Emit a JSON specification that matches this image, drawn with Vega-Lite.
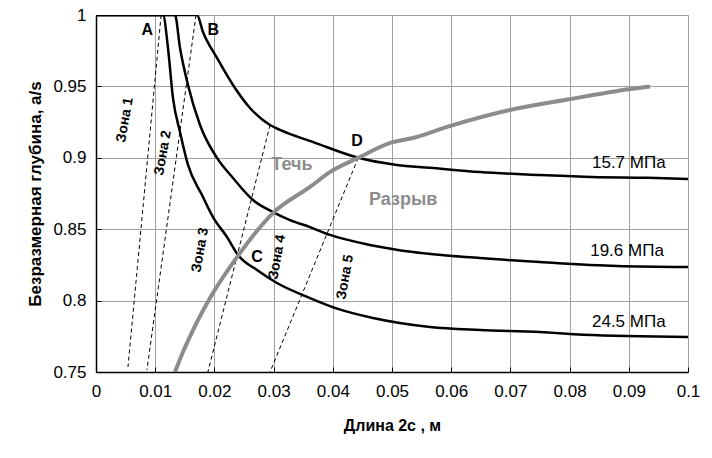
{
  "$schema": "https://vega.github.io/schema/vega-lite/v6.json",
  "width": 592,
  "height": 357,
  "autosize": "none",
  "padding": {"left": 96, "top": 15, "right": 24, "bottom": 86},
  "background": "white",
  "config": {
    "font": "Liberation Sans",
    "view": {"stroke": "#a0a0a0", "strokeWidth": 1},
    "axis": {
      "gridColor": "#a0a0a0",
      "gridWidth": 1,
      "domainColor": "black",
      "domainWidth": 1.5,
      "ticks": true,
      "tickSize": -5,
      "tickColor": "black",
      "tickWidth": 1,
      "labelFont": "Liberation Sans",
      "labelFontSize": 17,
      "labelColor": "black",
      "titleFont": "Liberation Sans",
      "titleFontSize": 16,
      "titleFontWeight": "bold",
      "titleColor": "black"
    }
  },
  "datasets": {
    "curves": [
      {"s": "24.5", "i": 0, "x": 0, "y": 1.0},
      {"s": "24.5", "i": 1, "x": 0.01132, "y": 1.0},
      {"s": "24.5", "i": 2, "x": 0.01216, "y": 0.9769},
      {"s": "24.5", "i": 3, "x": 0.0130, "y": 0.9419},
      {"s": "24.5", "i": 4, "x": 0.01419, "y": 0.9181},
      {"s": "24.5", "i": 5, "x": 0.01554, "y": 0.8950},
      {"s": "24.5", "i": 6, "x": 0.01791, "y": 0.8739},
      {"s": "24.5", "i": 7, "x": 0.01976, "y": 0.8585},
      {"s": "24.5", "i": 8, "x": 0.02213, "y": 0.8445},
      {"s": "24.5", "i": 9, "x": 0.02399, "y": 0.8319},
      {"s": "24.5", "i": 10, "x": 0.0272, "y": 0.8214},
      {"s": "24.5", "i": 11, "x": 0.03057, "y": 0.8123},
      {"s": "24.5", "i": 12, "x": 0.03615, "y": 0.8018},
      {"s": "24.5", "i": 13, "x": 0.04100, "y": 0.7940},
      {"s": "24.5", "i": 14, "x": 0.04679, "y": 0.7878},
      {"s": "24.5", "i": 15, "x": 0.05642, "y": 0.7815},
      {"s": "24.5", "i": 16, "x": 0.06486, "y": 0.7794},
      {"s": "24.5", "i": 17, "x": 0.0750, "y": 0.7780},
      {"s": "24.5", "i": 18, "x": 0.0823, "y": 0.7760},
      {"s": "24.5", "i": 19, "x": 0.1, "y": 0.7745},
      {"s": "19.6", "i": 0, "x": 0, "y": 1.0},
      {"s": "19.6", "i": 1, "x": 0.01334, "y": 1.0},
      {"s": "19.6", "i": 2, "x": 0.01419, "y": 0.9769},
      {"s": "19.6", "i": 3, "x": 0.01554, "y": 0.9510},
      {"s": "19.6", "i": 4, "x": 0.01757, "y": 0.9230},
      {"s": "19.6", "i": 5, "x": 0.02044, "y": 0.8999},
      {"s": "19.6", "i": 6, "x": 0.02314, "y": 0.8859},
      {"s": "19.6", "i": 7, "x": 0.02652, "y": 0.8704},
      {"s": "19.6", "i": 8, "x": 0.0299, "y": 0.8620},
      {"s": "19.6", "i": 9, "x": 0.03277, "y": 0.8564},
      {"s": "19.6", "i": 10, "x": 0.03615, "y": 0.8515},
      {"s": "19.6", "i": 11, "x": 0.03953, "y": 0.8460},
      {"s": "19.6", "i": 12, "x": 0.04628, "y": 0.8390},
      {"s": "19.6", "i": 13, "x": 0.05355, "y": 0.8340},
      {"s": "19.6", "i": 14, "x": 0.06486, "y": 0.8298},
      {"s": "19.6", "i": 15, "x": 0.0750, "y": 0.8270},
      {"s": "19.6", "i": 16, "x": 0.0880, "y": 0.8242},
      {"s": "19.6", "i": 17, "x": 0.1, "y": 0.8235},
      {"s": "15.7", "i": 0, "x": 0, "y": 1.0},
      {"s": "15.7", "i": 1, "x": 0.01706, "y": 1.0},
      {"s": "15.7", "i": 2, "x": 0.01807, "y": 0.9881},
      {"s": "15.7", "i": 3, "x": 0.02044, "y": 0.9699},
      {"s": "15.7", "i": 4, "x": 0.02314, "y": 0.9510},
      {"s": "15.7", "i": 5, "x": 0.02601, "y": 0.9349},
      {"s": "15.7", "i": 6, "x": 0.0294, "y": 0.9230},
      {"s": "15.7", "i": 7, "x": 0.03108, "y": 0.9195},
      {"s": "15.7", "i": 8, "x": 0.0367, "y": 0.9110},
      {"s": "15.7", "i": 9, "x": 0.0443, "y": 0.9000},
      {"s": "15.7", "i": 10, "x": 0.0508, "y": 0.8950},
      {"s": "15.7", "i": 11, "x": 0.0564, "y": 0.8930},
      {"s": "15.7", "i": 12, "x": 0.0649, "y": 0.8900},
      {"s": "15.7", "i": 13, "x": 0.0750, "y": 0.8880},
      {"s": "15.7", "i": 14, "x": 0.0838, "y": 0.8866},
      {"s": "15.7", "i": 15, "x": 0.0932, "y": 0.8860},
      {"s": "15.7", "i": 16, "x": 0.1, "y": 0.8852}
    ],
    "rupture": [
      {"i": 0, "x": 0.01334, "y": 0.750},
      {"i": 1, "x": 0.01480, "y": 0.7650},
      {"i": 2, "x": 0.01639, "y": 0.7794},
      {"i": 3, "x": 0.01976, "y": 0.8053},
      {"i": 4, "x": 0.02382, "y": 0.8305},
      {"i": 5, "x": 0.0299, "y": 0.8613},
      {"i": 6, "x": 0.03615, "y": 0.8796},
      {"i": 7, "x": 0.0395, "y": 0.8900},
      {"i": 8, "x": 0.0443, "y": 0.9000},
      {"i": 9, "x": 0.0497, "y": 0.9104},
      {"i": 10, "x": 0.0542, "y": 0.9146},
      {"i": 11, "x": 0.0596, "y": 0.9220},
      {"i": 12, "x": 0.0699, "y": 0.9335},
      {"i": 13, "x": 0.0799, "y": 0.9410},
      {"i": 14, "x": 0.0900, "y": 0.9480},
      {"i": 15, "x": 0.0936, "y": 0.9500}
    ],
    "zones": [
      {"z": "1", "i": 0, "x": 0.0110, "y": 1.0},
      {"z": "1", "i": 1, "x": 0.0054, "y": 0.7535},
      {"z": "2", "i": 0, "x": 0.0169, "y": 1.0},
      {"z": "2", "i": 1, "x": 0.0086, "y": 0.7514},
      {"z": "3", "i": 0, "x": 0.0294, "y": 0.923},
      {"z": "3", "i": 1, "x": 0.0189, "y": 0.750},
      {"z": "4", "i": 0, "x": 0.0443, "y": 0.900},
      {"z": "4", "i": 1, "x": 0.0294, "y": 0.750}
    ],
    "labels": [
      {"k": "point", "t": "A", "x": 0.00865, "y": 0.9895},
      {"k": "point", "t": "B", "x": 0.0198, "y": 0.9895},
      {"k": "point", "t": "C", "x": 0.0272, "y": 0.8305},
      {"k": "point", "t": "D", "x": 0.0441, "y": 0.9118},
      {"k": "gray", "t": "Течь", "x": 0.0331, "y": 0.895},
      {"k": "gray", "t": "Разрыв", "x": 0.0519, "y": 0.8705},
      {"k": "mpa", "t": "15.7 МПа", "x": 0.0900, "y": 0.8964},
      {"k": "mpa", "t": "19.6 МПа", "x": 0.0897, "y": 0.8347},
      {"k": "mpa", "t": "24.5 МПа", "x": 0.0900, "y": 0.785},
      {"k": "zone", "t": "Зона 1", "x": 0.0049, "y": 0.9265},
      {"k": "zone", "t": "Зона 2", "x": 0.0113, "y": 0.9034},
      {"k": "zone", "t": "Зона 3", "x": 0.0176, "y": 0.8354},
      {"k": "zone", "t": "Зона 4", "x": 0.0306, "y": 0.8305},
      {"k": "zone", "t": "Зона 5", "x": 0.0421, "y": 0.8165}
    ]
  },
  "encoding": {
    "x": {
      "field": "x", "type": "quantitative",
      "scale": {"domain": [0, 0.1], "nice": false, "zero": false},
      "axis": {"title": "Длина 2c , м", "format": "~g", "values": [0, 0.01, 0.02, 0.03, 0.04, 0.05, 0.06, 0.07, 0.08, 0.09, 0.1], "labelPadding": 16, "titlePadding": 18, "labelFlush": false, "labelOverlap": false}
    },
    "y": {
      "field": "y", "type": "quantitative",
      "scale": {"domain": [0.75, 1], "nice": false, "zero": false},
      "axis": {"title": "Безразмерная глубина, a/s", "titleFontSize": 17, "format": "~g", "values": [0.75, 0.8, 0.85, 0.9, 0.95, 1], "labelPadding": 15, "titlePadding": 8, "labelFlush": false, "labelOverlap": false}
    }
  },
  "layer": [
    {
      "data": {"name": "zones"},
      "mark": {"type": "line", "color": "black", "strokeWidth": 1, "strokeDash": [4, 3], "clip": true},
      "encoding": {"detail": {"field": "z"}, "order": {"field": "i"}}
    },
    {
      "data": {"name": "curves"},
      "mark": {"type": "line", "color": "black", "strokeWidth": 2.5, "clip": true, "interpolate": "monotone"},
      "encoding": {"detail": {"field": "s"}, "order": {"field": "i"}}
    },
    {
      "data": {"name": "rupture"},
      "mark": {"type": "line", "color": "#8c8c8c", "strokeWidth": 4, "clip": true, "interpolate": "monotone"},
      "encoding": {"order": {"field": "i"}}
    },
    {
      "data": {"name": "labels"},
      "transform": [{"filter": "datum.k === 'point'"}],
      "mark": {"type": "text", "fontSize": 16, "fontWeight": "bold", "color": "black", "align": "center", "baseline": "middle"},
      "encoding": {"text": {"field": "t"}}
    },
    {
      "data": {"name": "labels"},
      "transform": [{"filter": "datum.k === 'gray'"}],
      "mark": {"type": "text", "fontSize": 18, "fontWeight": "bold", "color": "#8c8c8c", "align": "center", "baseline": "middle"},
      "encoding": {"text": {"field": "t"}}
    },
    {
      "data": {"name": "labels"},
      "transform": [{"filter": "datum.k === 'mpa'"}],
      "mark": {"type": "text", "fontSize": 17, "color": "black", "align": "center", "baseline": "middle"},
      "encoding": {"text": {"field": "t"}}
    },
    {
      "data": {"name": "labels"},
      "transform": [{"filter": "datum.k === 'zone'"}],
      "mark": {"type": "text", "font": "Liberation Sans", "fontSize": 14, "fontWeight": "bold", "color": "black", "align": "center", "baseline": "middle", "angle": 280},
      "encoding": {"text": {"field": "t"}}
    }
  ]
}
